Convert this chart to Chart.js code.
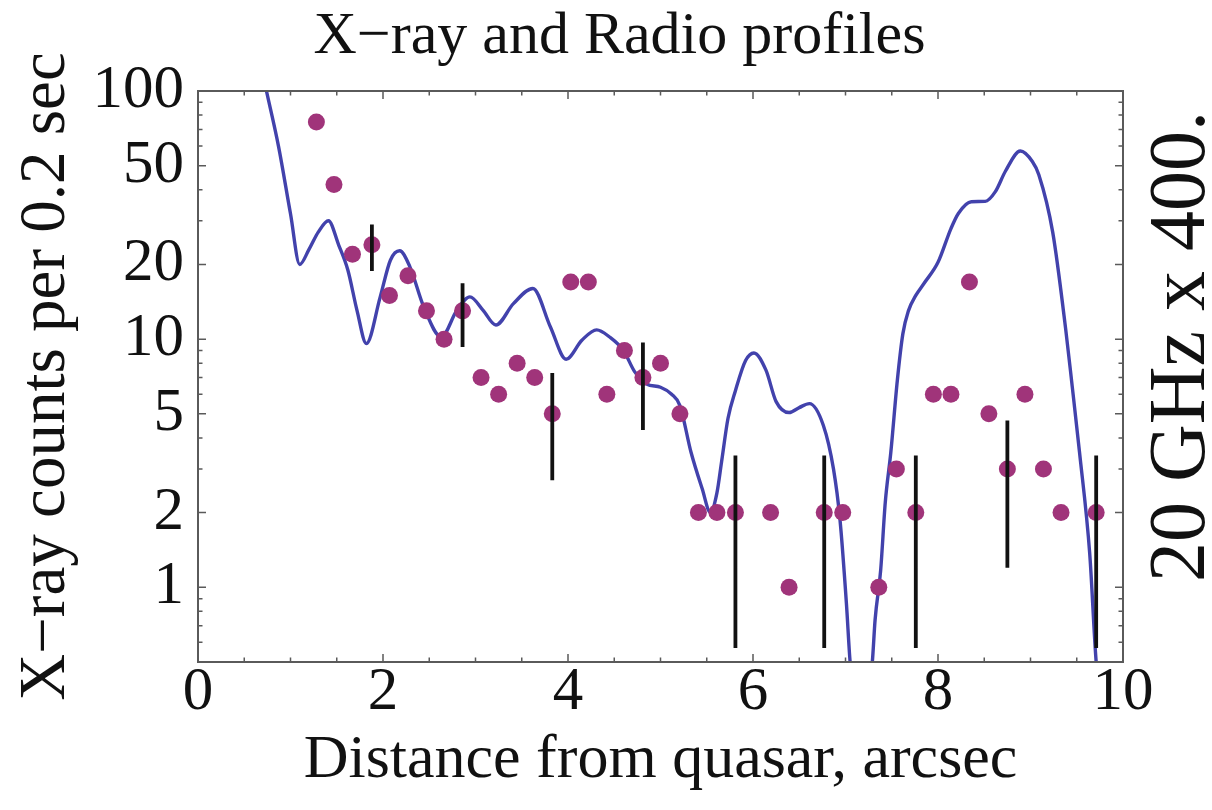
<!DOCTYPE html>
<html>
<head>
<meta charset="utf-8">
<script src="https://cdn.jsdelivr.net/npm/chart.js@4.4.1/dist/chart.umd.min.js"></script>
<style>
  html, body { margin: 0; padding: 0; background: #fff; }
  #wrap { width: 1212px; height: 810px; }
</style>
</head>
<body>
<div id="wrap"><canvas id="chart" width="1212" height="810"></canvas></div>
<script>
// X-ray counts (dots)
const xrayX = [1.28, 1.47, 1.67, 1.88, 2.07, 2.27, 2.47, 2.66, 2.86, 3.06, 3.25, 3.45, 3.64, 3.83,
  4.03, 4.22, 4.42, 4.61, 4.81, 5.00, 5.21, 5.41, 5.61, 5.81, 6.19, 6.39, 6.77, 6.97, 7.36, 7.55,
  7.76, 7.95, 8.14, 8.34, 8.55, 8.75, 8.94, 9.14, 9.33, 9.71];
const xrayY = [75, 42, 22, 24, 15, 18, 13, 10, 13, 7, 6, 8, 7, 5,
  17, 17, 6, 9, 7, 8, 5, 2, 2, 2, 2, 1, 2, 2, 1, 3,
  2, 6, 6, 17, 5, 3, 6, 3, 2, 2];

// error bars on every fifth bin
const errX = [1.88, 2.86, 3.83, 4.81, 5.81, 6.77, 7.76, 8.75, 9.71];
const errLo = [18.8, 9.3, 2.7, 4.3, 0.57, 0.57, 0.57, 1.2, 0.57];
const errHi = [29, 16.8, 7.3, 9.7, 3.4, 3.4, 3.4, 4.7, 3.4];

// 20 GHz radio profile (x 400)
const radioX = [0.62, 0.74, 0.87, 1.00, 1.10, 1.20, 1.30, 1.41, 1.52, 1.62, 1.72, 1.82, 1.97, 2.08,
  2.18, 2.29, 2.44, 2.63, 2.80, 2.94, 3.08, 3.22, 3.41, 3.62, 3.81, 3.98, 4.15, 4.31, 4.45, 4.60,
  4.72, 4.85, 5.00, 5.12, 5.21, 5.33, 5.45, 5.54, 5.61, 5.66, 5.73, 5.81, 5.92, 6.01, 6.14, 6.25,
  6.39, 6.50, 6.61, 6.76, 6.87, 6.94, 7.01, 7.05, 7.12, 7.20, 7.29, 7.32, 7.38, 7.43, 7.49, 7.56,
  7.62, 7.68, 7.76, 7.85, 8.00, 8.14, 8.22, 8.36, 8.51, 8.62, 8.73, 8.89, 9.02, 9.09, 9.24, 9.38,
  9.45, 9.53, 9.64, 9.71, 9.78];
const radioY = [160, 100, 60, 32, 20, 23, 27, 30, 24, 19, 13, 9.6, 14.8, 20.8,
  22.7, 19.6, 13.5, 10.2, 13.1, 14.8, 13.1, 11.4, 13.9, 16.0, 11.2, 8.3, 9.9, 10.9, 10.2, 9.0,
  7.4, 6.6, 6.4, 6.0, 5.4, 3.5, 2.5, 2.0, 2.4, 3.2, 4.8, 6.2, 8.2, 8.8, 7.5, 5.6,
  5.06, 5.3, 5.5, 4.5, 3.0, 1.88, 0.86, 0.5, 0.32, 0.28, 0.5, 0.74, 1.17, 2.2, 3.5, 6.8,
  10.5, 13.0, 15.0, 16.8, 20.4, 27.9, 32.1, 35.8, 35.9, 39.3, 47.6, 57.3, 52, 46, 27, 11,
  6.5, 3.5, 1.37, 0.5, 0.3];

const xLabelTicks = [0, 2, 4, 6, 8, 10];
const xMinorTicks = [0.5, 1, 1.5, 2.5, 3, 3.5, 4.5, 5, 5.5, 6.5, 7, 7.5, 8.5, 9, 9.5];
const yLabelTicks = [1, 2, 5, 10, 20, 50, 100];
const yMinorTicks = [0.6, 0.7, 0.8, 0.9, 3, 4, 6, 7, 8, 9, 30, 40, 60, 70, 80, 90];

const SERIF = "'Liberation Serif', 'Times New Roman', serif";
const TEXT = '#111';
const FRAME = '#5a5a5a';
const LINE = 'rgb(66, 66, 172)';
const DOT = 'rgb(160, 52, 122)';

const xrayData = xrayX.map((x, i) => ({ x, y: xrayY[i] }));
const radioData = radioX.map((x, i) => ({ x, y: radioY[i] }));
const errData = [];
errX.forEach((x, i) => {
  errData.push({ x, y: errLo[i] }, { x, y: errHi[i] }, { x, y: null });
});

// Mathematica-like frame: inward ticks on all four sides, plus the right label
const frameTicks = {
  id: 'frameTicks',
  afterDatasetsDraw(chart) {
    const { ctx, chartArea: a, scales: { x, y } } = chart;
    ctx.save();
    ctx.strokeStyle = FRAME;
    ctx.lineWidth = 1.5;
    ctx.beginPath();
    const xTick = (v, len) => {
      const px = x.getPixelForValue(v);
      ctx.moveTo(px, a.bottom); ctx.lineTo(px, a.bottom - len);
      ctx.moveTo(px, a.top); ctx.lineTo(px, a.top + len);
    };
    const yTick = (v, len) => {
      const py = y.getPixelForValue(v);
      ctx.moveTo(a.left, py); ctx.lineTo(a.left + len, py);
      ctx.moveTo(a.right, py); ctx.lineTo(a.right - len, py);
    };
    xLabelTicks.forEach(v => xTick(v, 8));
    xMinorTicks.forEach(v => xTick(v, 4.5));
    yLabelTicks.forEach(v => yTick(v, 8));
    yMinorTicks.forEach(v => yTick(v, 4.5));
    ctx.stroke();
    ctx.lineWidth = 2;
    ctx.strokeRect(a.left, a.top, a.right - a.left, a.bottom - a.top);

    // right frame label reads bottom to top
    ctx.translate(1183, (a.top + a.bottom) / 2 - 30);
    ctx.rotate(-Math.PI / 2);
    ctx.fillStyle = TEXT;
    ctx.font = '80px ' + SERIF;
    ctx.textAlign = 'center';
    ctx.textBaseline = 'middle';
    ctx.fillText('20 GHz x 400.', 0, 0);
    ctx.restore();
  }
};

new Chart(document.getElementById('chart'), {
  type: 'line',
  data: {
    datasets: [
      {
        label: 'errors',
        data: errData,
        borderColor: '#111',
        borderWidth: 3.8,
        pointRadius: 0,
        spanGaps: false,
        order: 0
      },
      {
        label: 'X-ray',
        type: 'scatter',
        data: xrayData,
        backgroundColor: DOT,
        borderWidth: 0,
        pointRadius: 8.5,
        order: 1
      },
      {
        label: '20 GHz',
        data: radioData,
        borderColor: LINE,
        borderWidth: 3.4,
        pointRadius: 0,
        cubicInterpolationMode: 'monotone',
        order: 2
      }
    ]
  },
  options: {
    responsive: false,
    animation: false,
    layout: { padding: { left: 27, top: 0, right: 0, bottom: 0 } },
    plugins: {
      legend: { display: false },
      tooltip: { enabled: false },
      title: {
        display: true,
        text: 'X\u2212ray and Radio profiles',
        color: TEXT,
        font: { family: SERIF, size: 60, weight: 'normal', lineHeight: 1.2 },
        padding: { top: 1, bottom: 18 }
      }
    },
    scales: {
      x: {
        type: 'linear',
        min: 0,
        max: 10,
        afterBuildTicks: s => { s.ticks = xLabelTicks.map(v => ({ value: v })); },
        afterFit: s => { s.height = 148; },
        grid: { display: false, drawTicks: false },
        border: { display: false },
        ticks: {
          color: TEXT,
          padding: 0,
          maxRotation: 0,
          font: { family: SERIF, size: 61, lineHeight: 1 },
          callback: v => String(v)
        },
        title: {
          display: true,
          text: 'Distance from quasar, arcsec',
          color: TEXT,
          font: { family: SERIF, size: 62, lineHeight: 1.2 },
          padding: { top: 0, bottom: 12 }
        }
      },
      y: {
        type: 'logarithmic',
        min: 0.5,
        max: 100,
        afterBuildTicks: s => { s.ticks = yLabelTicks.map(v => ({ value: v })); },
        afterFit: s => { s.width = 171; },
        grid: { display: false, drawTicks: false },
        border: { display: false },
        ticks: {
          color: TEXT,
          padding: 14,
          font: { family: SERIF, size: 61, lineHeight: 1 },
          callback: v => String(v)
        },
        title: {
          display: true,
          text: 'X\u2212ray counts per 0.2 sec',
          color: TEXT,
          font: { family: SERIF, size: 65, lineHeight: 0.6 },
          padding: { top: 0, bottom: 0 }
        }
      },
      y2: {
        type: 'logarithmic',
        position: 'right',
        min: 0.5,
        max: 100,
        afterFit: s => { s.width = 89; },
        grid: { display: false, drawTicks: false },
        border: { display: false },
        ticks: { display: false }
      }
    }
  },
  plugins: [frameTicks]
});
</script>
</body>
</html>
